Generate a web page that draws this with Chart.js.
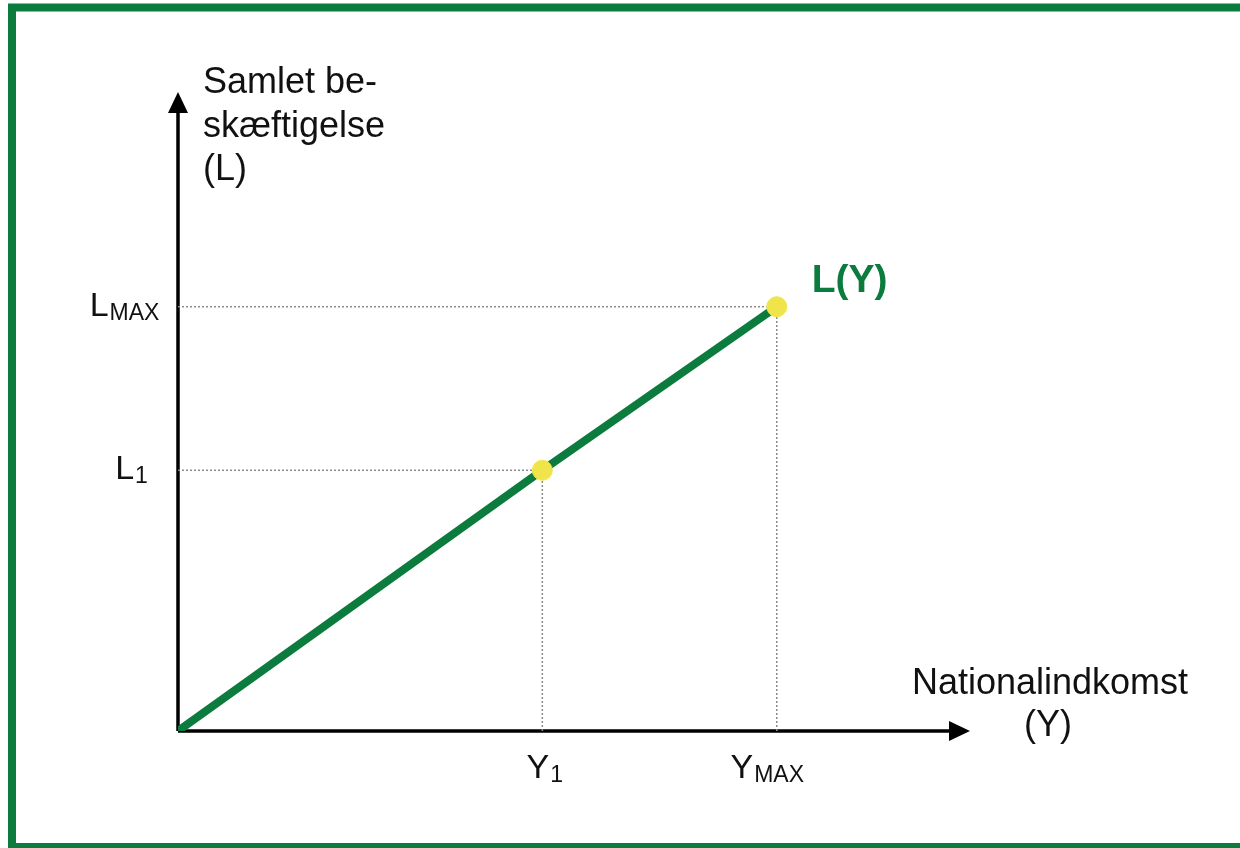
<!DOCTYPE html>
<html>
<head>
<meta charset="utf-8">
<script src="https://cdn.jsdelivr.net/npm/chart.js@4.4.1/dist/chart.umd.min.js"></script>
<style>
  html, body { margin: 0; padding: 0; background: #fff; }
  #wrap { width: 1240px; height: 848px; position: relative; }
</style>
</head>
<body>
<div id="wrap"><canvas id="LY"></canvas></div>
<script>
// income (Y) and employment (L) levels: origin, Y1/L1, YMAX/LMAX
const incomeLevels = [0, 46, 75.6];
const employmentLevels = [0, 40.8, 66.4];
const xTickLabels = [['Y', '1'], ['Y', 'MAX']];
const yTickLabels = [['L', '1'], ['L', 'MAX']];
const curveLabel = 'L(Y)';
const yAxisTitle = ['Samlet be-', 'skæftigelse', '(L)'];
const xAxisTitle = ['Nationalindkomst', '(Y)'];

const green = '#0b7b3e';
const yellow = '#efe54a';
const font = '"Liberation Sans", Arial, sans-serif';

const linePts = incomeLevels.map((x, i) => ({x: x, y: employmentLevels[i]}));
const markPts = linePts.slice(1);

// dotted guides from each marked point to both axes
const guides = [];
markPts.forEach(p => {
    guides.push([{x: 0, y: p.y}, {x: p.x, y: p.y}]);
    guides.push([{x: p.x, y: 0}, {x: p.x, y: p.y}]);
});

const guideSets = guides.map(g => ({
    data: g,
    showLine: true,
    borderColor: '#8a8a8a',
    borderWidth: 1.5,
    borderDash: [2, 2],
    pointRadius: 0,
    order: 3
}));

function subText(ctx, main, sub, cx, base, big, small, drop) {
    ctx.font = big + 'px ' + font;
    const w1 = ctx.measureText(main).width;
    ctx.font = small + 'px ' + font;
    const w2 = ctx.measureText(sub).width;
    const left = cx - (w1 + w2) / 2;
    ctx.textAlign = 'left';
    ctx.font = big + 'px ' + font;
    ctx.fillText(main, left, base);
    ctx.font = small + 'px ' + font;
    ctx.fillText(sub, left + w1 + 1, base + drop);
}

const decor = {
    id: 'decor',
    beforeDatasetsDraw(chart) {
        const ctx = chart.ctx;
        const xs = chart.scales.x, ys = chart.scales.y;
        const ox = xs.getPixelForValue(0), oy = ys.getPixelForValue(0);
        const xEnd = xs.right, yEnd = ys.top;
        ctx.save();
        // frame
        ctx.strokeStyle = green;
        ctx.lineWidth = 8;
        ctx.strokeRect(12, 7.5, 1240, 839.5);
        // axes
        ctx.strokeStyle = '#000';
        ctx.fillStyle = '#000';
        ctx.lineWidth = 3.5;
        ctx.beginPath();
        ctx.moveTo(ox, oy);
        ctx.lineTo(ox, yEnd + 18);
        ctx.moveTo(ox, oy);
        ctx.lineTo(xEnd - 18, oy);
        ctx.stroke();
        ctx.beginPath();
        ctx.moveTo(ox, yEnd);
        ctx.lineTo(ox - 10, yEnd + 21);
        ctx.lineTo(ox + 10, yEnd + 21);
        ctx.closePath();
        ctx.fill();
        ctx.beginPath();
        ctx.moveTo(xEnd, oy);
        ctx.lineTo(xEnd - 21, oy - 10);
        ctx.lineTo(xEnd - 21, oy + 10);
        ctx.closePath();
        ctx.fill();
        ctx.restore();
    },
    afterDraw(chart) {
        const ctx = chart.ctx;
        const xs = chart.scales.x, ys = chart.scales.y;
        const ox = xs.getPixelForValue(0);
        ctx.save();
        ctx.fillStyle = '#111';
        ctx.textBaseline = 'alphabetic';
        // tick labels
        xTickLabels.forEach((t, i) => {
            const px = xs.getPixelForValue(incomeLevels[i + 1]);
            subText(ctx, t[0], t[1], px - (t[1].length > 1 ? 10 : -2), 778, 34, 23, 4);
        });
        yTickLabels.forEach((t, i) => {
            const py = ys.getPixelForValue(employmentLevels[i + 1]);
            subText(ctx, t[0], t[1], ox - (t[1].length > 1 ? 54 : 47), py + 9, 34, 23, 4);
        });
        // axis titles
        ctx.textAlign = 'left';
        ctx.font = '36px ' + font;
        ctx.fillText(yAxisTitle[0], ox + 25, 93);
        ctx.fillText(yAxisTitle[1], ox + 25, 137);
        ctx.fillText(yAxisTitle[2], ox + 25, 180);
        ctx.textAlign = 'center';
        ctx.fillText(xAxisTitle[0], 1050, 694);
        ctx.fillText(xAxisTitle[1], 1048, 736);
        // curve label
        const top = markPts[markPts.length - 1];
        ctx.fillStyle = green;
        ctx.textAlign = 'left';
        ctx.font = 'bold 39px ' + font;
        ctx.fillText(curveLabel, xs.getPixelForValue(top.x) + 35, ys.getPixelForValue(top.y) - 15);
        ctx.restore();
    }
};

const ctx = document.getElementById('LY').getContext('2d');
const LY = new Chart(ctx, {
    type: 'scatter',
    data: {
        datasets: [
            ...guideSets,
            {
                data: linePts,
                showLine: true,
                borderColor: green,
                borderWidth: 8,
                borderCapStyle: 'round',
                pointRadius: 0,
                order: 2
            },
            {
                data: markPts,
                showLine: false,
                backgroundColor: yellow,
                borderColor: yellow,
                pointRadius: 10,
                pointHoverRadius: 10,
                order: 1
            }
        ]
    },
    options: {
        responsive: true,
        maintainAspectRatio: false,
        animation: false,
        layout: {
            padding: {left: 178, right: 270, top: 92, bottom: 117}
        },
        plugins: {
            legend: {display: false},
            tooltip: {enabled: false}
        },
        scales: {
            x: {type: 'linear', min: 0, max: 100, display: false},
            y: {type: 'linear', min: 0, max: 100, display: false}
        }
    },
    plugins: [decor]
});
</script>
</body>
</html>
